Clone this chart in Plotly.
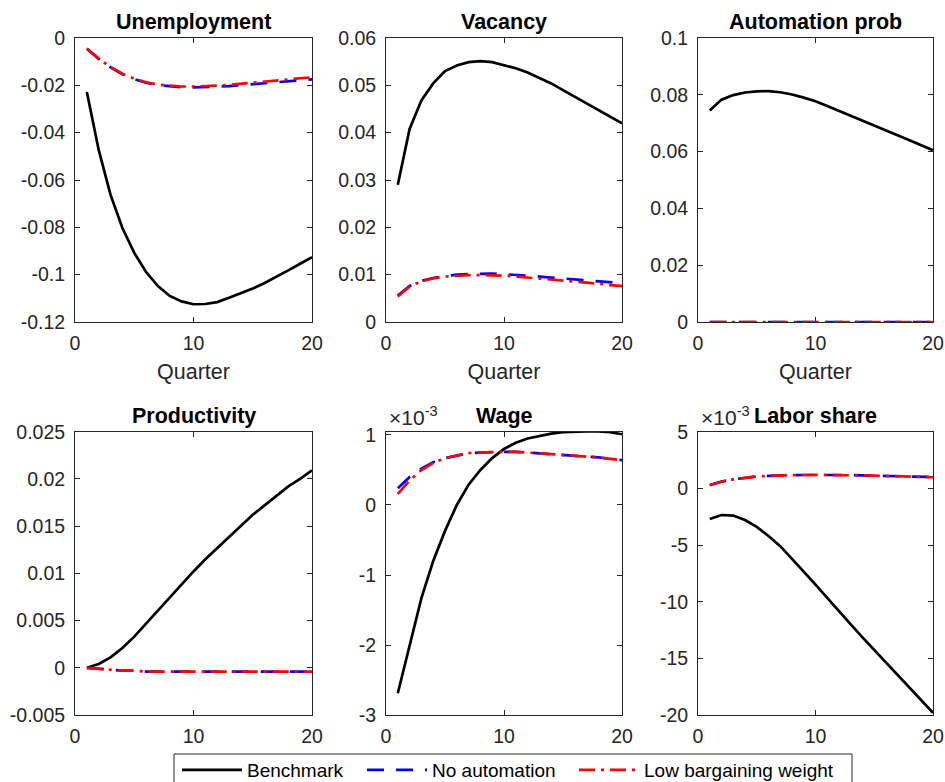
import plotly.graph_objects as go

# ---------------- data ----------------
quarters = list(range(1, 21))

series_names = ["Benchmark", "No automation", "Low bargaining weight"]

unemp_bench = [-0.0228, -0.0473, -0.0663, -0.0803, -0.0908, -0.0989, -0.1048, -0.1090, -0.1113, -0.1125,
               -0.1124, -0.1116, -0.1098, -0.1080, -0.1059, -0.1035, -0.1010, -0.0982, -0.0954, -0.0926]
unemp_noauto = [-0.0045, -0.0088, -0.0124, -0.0153, -0.0174, -0.0189, -0.0199, -0.0205, -0.0208, -0.0209,
                -0.0208, -0.0206, -0.0203, -0.0199, -0.0195, -0.0191, -0.0187, -0.0183, -0.0179, -0.0175]
unemp_lowbarg = [-0.0044, -0.0087, -0.0123, -0.0151, -0.0172, -0.0187, -0.0197, -0.0202, -0.0205, -0.0205,
                 -0.0204, -0.0201, -0.0198, -0.0194, -0.0189, -0.0185, -0.0180, -0.0175, -0.0170, -0.0166]

vac_bench = [0.0290, 0.0408, 0.0468, 0.0504, 0.0530, 0.0542, 0.0549, 0.0551, 0.0549, 0.0543,
             0.0536, 0.0527, 0.0516, 0.0504, 0.0490, 0.0476, 0.0462, 0.0448, 0.0434, 0.0420]
vac_noauto = [0.0056, 0.0076, 0.0087, 0.0093, 0.0097, 0.0100, 0.0101, 0.0102, 0.0102, 0.0101,
              0.0100, 0.0098, 0.0096, 0.0094, 0.0092, 0.0090, 0.0088, 0.0086, 0.0084, 0.0082]
vac_lowbarg = [0.0054, 0.0075, 0.0086, 0.0092, 0.0096, 0.0098, 0.0099, 0.0099, 0.0099, 0.0098,
               0.0096, 0.0094, 0.0092, 0.0090, 0.0088, 0.0085, 0.0083, 0.0081, 0.0078, 0.0076]

auto_bench = [0.0745, 0.0783, 0.0799, 0.0808, 0.0812, 0.0813, 0.0809, 0.0801, 0.0790, 0.0777,
              0.0761, 0.0744, 0.0727, 0.0710, 0.0692, 0.0675, 0.0657, 0.0640, 0.0622, 0.0605]
auto_noauto = [0.0] * 20
auto_lowbarg = [0.0] * 20

prod_bench = [0.0000, 0.0004, 0.0011, 0.0021, 0.0033, 0.0047, 0.0061, 0.0075, 0.0089, 0.0102,
              0.0115, 0.0127, 0.0139, 0.0151, 0.0162, 0.0172, 0.0182, 0.0192, 0.0200, 0.0209]
prod_noauto = [0.0000, -0.0001, -0.0002, -0.0003, -0.0003, -0.0004, -0.0004, -0.0004, -0.0004, -0.0004,
               -0.0004, -0.0004, -0.0004, -0.0004, -0.0004, -0.0004, -0.0004, -0.0004, -0.0004, -0.0004]
prod_lowbarg = [0.0000, -0.0001, -0.0002, -0.0003, -0.0003, -0.0004, -0.0004, -0.0004, -0.0004, -0.0004,
                -0.0004, -0.0004, -0.0004, -0.0004, -0.0004, -0.0004, -0.0004, -0.0004, -0.0004, -0.0004]

# wage and labor share in units of 10^-3
wage_bench = [-2.69, -2.00, -1.33, -0.80, -0.37, 0.00, 0.29, 0.50, 0.67, 0.80,
              0.89, 0.95, 0.99, 1.02, 1.04, 1.05, 1.05, 1.05, 1.04, 1.01]
wage_noauto = [0.24, 0.40, 0.52, 0.61, 0.67, 0.71, 0.74, 0.75, 0.76, 0.76,
               0.76, 0.75, 0.74, 0.73, 0.72, 0.70, 0.69, 0.68, 0.66, 0.64]
wage_lowbarg = [0.16, 0.35, 0.50, 0.60, 0.67, 0.71, 0.74, 0.75, 0.76, 0.76,
                0.76, 0.75, 0.74, 0.73, 0.72, 0.70, 0.69, 0.68, 0.66, 0.64]

lshare_bench = [-2.70, -2.35, -2.40, -2.80, -3.40, -4.20, -5.10, -6.20, -7.35, -8.50,
                -9.70, -10.85, -12.00, -13.15, -14.25, -15.35, -16.45, -17.55, -18.65, -19.80]
lshare_noauto = [0.30, 0.60, 0.80, 0.95, 1.05, 1.10, 1.15, 1.17, 1.18, 1.20,
                 1.20, 1.18, 1.17, 1.15, 1.13, 1.11, 1.09, 1.06, 1.03, 1.00]
lshare_lowbarg = [0.28, 0.58, 0.79, 0.94, 1.04, 1.10, 1.14, 1.17, 1.18, 1.19,
                  1.19, 1.18, 1.16, 1.14, 1.12, 1.10, 1.08, 1.05, 1.02, 0.98]

panel_titles = ["Unemployment", "Vacancy", "Automation prob", "Productivity", "Wage", "Labor share"]

x_tickvals = [0, 10, 20]
x_ticktext = ["0", "10", "20"]

y_ticks = [
    ([-0.12, -0.10, -0.08, -0.06, -0.04, -0.02, 0.0], ["-0.12", "-0.1", "-0.08", "-0.06", "-0.04", "-0.02", "0"]),
    ([0.0, 0.01, 0.02, 0.03, 0.04, 0.05, 0.06], ["0", "0.01", "0.02", "0.03", "0.04", "0.05", "0.06"]),
    ([0.0, 0.02, 0.04, 0.06, 0.08, 0.1], ["0", "0.02", "0.04", "0.06", "0.08", "0.1"]),
    ([-0.005, 0.0, 0.005, 0.01, 0.015, 0.02, 0.025], ["-0.005", "0", "0.005", "0.01", "0.015", "0.02", "0.025"]),
    ([-3, -2, -1, 0, 1], ["-3", "-2", "-1", "0", "1"]),
    ([-20, -15, -10, -5, 0, 5], ["-20", "-15", "-10", "-5", "0", "5"]),
]
y_ranges = [[-0.12, 0.0], [0.0, 0.06], [0.0, 0.1], [-0.005, 0.025], [-3, 1.047], [-20, 5]]

panels = [
    (unemp_bench, unemp_noauto, unemp_lowbarg),
    (vac_bench, vac_noauto, vac_lowbarg),
    (auto_bench, auto_noauto, auto_lowbarg),
    (prod_bench, prod_noauto, prod_lowbarg),
    (wage_bench, wage_noauto, wage_lowbarg),
    (lshare_bench, lshare_noauto, lshare_lowbarg),
]
exponent_panels = ["Wage", "Labor share"]

# ---------------- layout geometry ----------------
W, H = 945, 782
col_px = [(75, 312), (386, 622), (698, 933)]
row_px = [(38, 322), (431.7, 715)]

styles = [
    dict(color="#000000", width=2.7, dash="solid"),
    dict(color="#0000ff", width=2.7, dash="17px,12px"),
    dict(color="#ff0000", width=2.7, dash="16px,6px,3px,6px"),
]
legend_widths = [110, 137, 200]

FONT = "Liberation Sans, Arial, Helvetica, sans-serif"
AXC = "#262626"

fig = go.Figure()
layout = dict(
    width=W, height=H,
    margin=dict(l=0, r=0, t=0, b=0, autoexpand=False),
    paper_bgcolor="white", plot_bgcolor="white",
    font=dict(family=FONT, size=19.5, color=AXC),
    annotations=[],
    shapes=[],
)

for i in range(6):
    r, c = divmod(i, 3)
    n = i + 1
    xa = "xaxis" if n == 1 else f"xaxis{n}"
    ya = "yaxis" if n == 1 else f"yaxis{n}"
    xref = "x" if n == 1 else f"x{n}"
    yref = "y" if n == 1 else f"y{n}"
    x0, x1 = col_px[c]
    top, bot = row_px[r]
    layout[xa] = dict(
        domain=[x0 / W, x1 / W], anchor=yref, range=[0, 20],
        tickvals=x_tickvals, ticktext=x_ticktext,
        ticks="inside", ticklen=5, tickcolor=AXC, tickwidth=1,
        showline=True, linecolor=AXC, linewidth=1, mirror="ticks",
        showgrid=False, zeroline=False,
        tickfont=dict(size=19.5, color=AXC, family=FONT),
        ticklabelstandoff=4,
    )
    if r == 0:
        layout[xa]["title"] = dict(text="Quarter", font=dict(size=21.5, color=AXC, family=FONT), standoff=10)
    tv, tt = y_ticks[i]
    layout[ya] = dict(
        domain=[1 - bot / H, 1 - top / H], anchor=xref, range=y_ranges[i],
        tickvals=tv, ticktext=tt,
        ticks="inside", ticklen=5, tickcolor=AXC, tickwidth=1,
        showline=True, linecolor=AXC, linewidth=1, mirror="ticks",
        showgrid=False, zeroline=False,
        tickfont=dict(size=19.5, color=AXC, family=FONT),
        ticklabelstandoff=5,
    )
    for k, ys in enumerate(panels[i]):
        fig.add_trace(go.Scatter(
            x=quarters, y=ys, mode="lines", name=series_names[k],
            line=styles[k], xaxis=xref, yaxis=yref,
            showlegend=(i == 0), legendwidth=legend_widths[k],
        ))
    # panel title
    layout["annotations"].append(dict(
        text="<b>" + panel_titles[i] + "</b>", xref="paper", yref="paper",
        x=(x0 + x1) / 2 / W, y=1 - (top - 16) / H, xanchor="center", yanchor="middle",
        showarrow=False, font=dict(size=21.5, color="#000000", family=FONT),
    ))
    if panel_titles[i] in exponent_panels:
        layout["annotations"].append(dict(
            text="×10<sup>-3</sup>", xref="paper", yref="paper",
            x=(x0 + 1) / W, y=1 - (top - 1) / H, xanchor="left", yanchor="bottom",
            showarrow=False, font=dict(size=21, color=AXC, family=FONT),
        ))

# legend frame (bottom edge runs off the page, as in the reference)
layout["shapes"].append(dict(
    type="rect", xref="paper", yref="paper",
    x0=174 / W, x1=852 / W, y0=1 - 800 / H, y1=1 - 754 / H,
    line=dict(color=AXC, width=1), fillcolor="white", layer="below",
))

layout["legend"] = dict(
    orientation="h", x=177 / W, y=1 - 751 / H, xanchor="left", yanchor="top",
    borderwidth=0, bgcolor="rgba(0,0,0,0)",
    font=dict(size=19, color="#000000", family=FONT),
    itemwidth=60, tracegroupgap=0,
)

fig.update_layout(**layout)
fig.write_html(
    "out.html",
    config={"displayModeBar": False},
    post_script="document.body.style.margin='0';document.body.style.overflow='hidden';",
)
